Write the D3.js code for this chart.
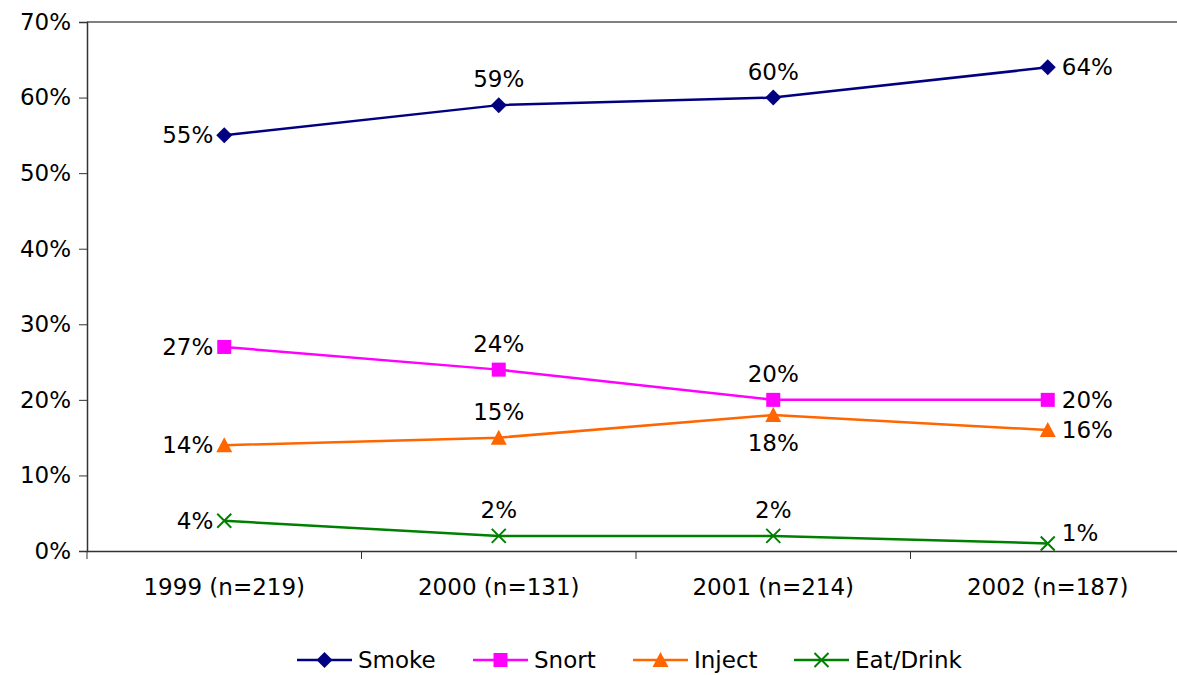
<!DOCTYPE html>
<html>
<head>
<meta charset="utf-8">
<title>Route of administration</title>
<style>
  body { margin: 0; background: #fff; }
  text { font-family: "DejaVu Sans", Tahoma, sans-serif; fill: #000; }
</style>
</head>
<body>
<svg id="chart" width="1177" height="675"></svg>
<script src="https://cdn.jsdelivr.net/npm/d3@7/dist/d3.min.js"></script>
<script>
var years = ["1999 (n=219)", "2000 (n=131)", "2001 (n=214)", "2002 (n=187)"];
var yTicks = [0, 10, 20, 30, 40, 50, 60, 70];
var smoke = [55, 59, 60, 64];
var snort = [27, 24, 20, 20];
var inject = [14, 15, 18, 16];
var eatDrink = [4, 2, 2, 1];
var seriesNames = ["Smoke", "Snort", "Inject", "Eat/Drink"];

// label placement per point: l = left, a = above, b = below, r = right
var series = [
  { name: "Smoke", values: smoke, color: "#000080", shape: "diamond", pos: ["l", "a", "a", "r"] },
  { name: "Snort", values: snort, color: "#ff00ff", shape: "square", pos: ["l", "a", "a", "r"] },
  { name: "Inject", values: inject, color: "#ff6600", shape: "triangle", pos: ["l", "a", "b", "r"] },
  { name: "Eat/Drink", values: eatDrink, color: "#008000", shape: "x", pos: ["l", "a", "a", "ru"] }
];

var svg = d3.select("#chart");
var plotLeft = 87, plotTop = 22, plotW = 1098, plotH = 529;
var fs = "23px";

var x = d3.scaleBand().domain(years).range([plotLeft, plotLeft + plotW]);
var y = d3.scaleLinear().domain([0, 70]).range([plotTop + plotH, plotTop]);

// top border
svg.append("line")
  .attr("x1", plotLeft).attr("x2", 1177).attr("y1", plotTop).attr("y2", plotTop)
  .attr("stroke", "#808080").attr("stroke-width", 2);

// y axis
var yAxis = svg.append("g").attr("transform", "translate(" + plotLeft + ",0)")
  .call(d3.axisLeft(y).tickValues(yTicks).tickSize(8).tickPadding(8).tickFormat(function (d) { return d + "%"; }));
yAxis.select(".domain").attr("stroke", "#333").attr("stroke-width", 1.5);
yAxis.selectAll(".tick line").attr("stroke", "#333");
yAxis.selectAll("text").style("font-size", fs).attr("fill", "#000");

// x axis
var xAxis = svg.append("g").attr("transform", "translate(0," + (plotTop + plotH) + ")")
  .call(d3.axisBottom(x).tickSize(0).tickPadding(28));
xAxis.select(".domain").attr("stroke", "#333").attr("stroke-width", 1.5);
xAxis.selectAll("text").style("font-size", fs).attr("fill", "#000");
xAxis.selectAll(".sep").data(years).enter().append("line")
  .attr("x1", function (d) { return x(d); }).attr("x2", function (d) { return x(d); })
  .attr("y1", 0).attr("y2", 8).attr("stroke", "#333");

function cx(i) { return x(years[i]) + x.bandwidth() / 2; }

function marker(g, shape, color, px, py) {
  if (shape === "diamond") {
    g.append("path").attr("d", "M" + px + "," + (py - 8) + "L" + (px + 8) + "," + py + "L" + px + "," + (py + 8) + "L" + (px - 8) + "," + py + "Z").attr("fill", color);
  } else if (shape === "square") {
    g.append("rect").attr("x", px - 7).attr("y", py - 7).attr("width", 14).attr("height", 14).attr("fill", color);
  } else if (shape === "triangle") {
    g.append("path").attr("d", "M" + px + "," + (py - 8) + "L" + (px + 8) + "," + (py + 7) + "L" + (px - 8) + "," + (py + 7) + "Z").attr("fill", color);
  } else {
    g.append("path").attr("d", "M" + (px - 7) + "," + (py - 7) + "L" + (px + 7) + "," + (py + 7) + "M" + (px + 7) + "," + (py - 7) + "L" + (px - 7) + "," + (py + 7))
      .attr("stroke", color).attr("stroke-width", 2).attr("fill", "none");
  }
}

var line = d3.line().x(function (d, i) { return cx(i); }).y(function (d) { return y(d); });

series.forEach(function (s) {
  var g = svg.append("g");
  g.append("path").datum(s.values).attr("d", line)
    .attr("fill", "none").attr("stroke", s.color).attr("stroke-width", 2.5);
  s.values.forEach(function (v, i) {
    marker(g, s.shape, s.color, cx(i), y(v));
    var t = g.append("text").text(v + "%").style("font-size", fs);
    var p = s.pos[i];
    if (p === "l") t.attr("x", cx(i) - 11).attr("y", y(v) + 8).attr("text-anchor", "end");
    else if (p === "a") t.attr("x", cx(i)).attr("y", y(v) - 18).attr("text-anchor", "middle");
    else if (p === "b") t.attr("x", cx(i)).attr("y", y(v) + 36).attr("text-anchor", "middle");
    else if (p === "r") t.attr("x", cx(i) + 14).attr("y", y(v) + 8).attr("text-anchor", "start");
    else t.attr("x", cx(i) + 14).attr("y", y(v) - 2).attr("text-anchor", "start");
  });
});

// legend
var legendX = [297, 473, 633, 794];
var legend = svg.append("g");
series.forEach(function (s, i) {
  var lx = legendX[i], ly = 660;
  legend.append("line").attr("x1", lx).attr("x2", lx + 55).attr("y1", ly).attr("y2", ly)
    .attr("stroke", s.color).attr("stroke-width", 2.5);
  marker(legend, s.shape, s.color, lx + 27.5, ly);
  legend.append("text").attr("x", lx + 61).attr("y", ly + 8)
    .text(seriesNames[i]).style("font-size", fs);
});
</script>
</body>
</html>
